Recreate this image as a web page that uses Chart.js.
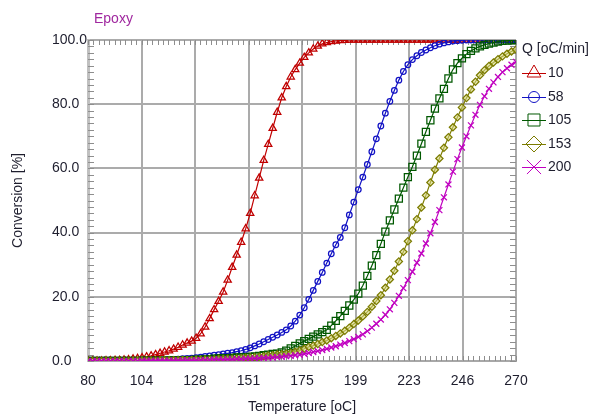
<!DOCTYPE html>
<html><head><meta charset="utf-8">
<script src="https://cdn.jsdelivr.net/npm/chart.js@4"></script>
<style>html,body{margin:0;padding:0;background:#fff;overflow:hidden}</style>
</head><body>
<canvas id="c" width="591" height="418"></canvas>
<script>
const temperature = [
 80,82,84,86,88,90,92,94,96,98,
 100,102,104,106,108,110,112,114,116,118,
 120,122,124,126,128,130,132,134,136,138,
 140,142,144,146,148,150,152,154,156,158,
 160,162,164,166,168,170,172,174,176,178,
 180,182,184,186,188,190,192,194,196,198,
 200,202,204,206,208,210,212,214,216,218,
 220,222,224,226,228,230,232,234,236,238,
 240,242,244,246,248,250,252,254,256,258,
 260,262,264,266,268,270];
const q10 = [
 0,0,0,0,0.1,0.1,0.2,0.2,0.3,0.4,
 0.6,0.8,1.0,1.3,1.6,2.0,2.4,2.8,3.2,3.7,
 4.3,5.0,5.6,6.2,7.1,8.5,10.6,13.2,16,18.6,
 21.5,25.2,29.2,33,37,41.2,46,51.5,57,62.5,
 67.5,72.5,77.5,82,85.5,88.5,90.8,92.8,94.6,96,
 97.2,98.1,98.8,99.2,99.5,99.7,99.8,99.9,100,100,
 100,100,100,100,100,100,100,100,100,100,
 100,100,100,100,100,100,100,100,100,100,
 100,100,100,100,100,100,100,100,100,100,
 100,100,100,100,100,100];
const q58 = [
 0,0,0,0,0,0,0.1,0.1,0.1,0.1,
 0.1,0.1,0.1,0.2,0.2,0.2,0.3,0.3,0.4,0.5,
 0.6,0.7,0.8,0.9,1.0,1.2,1.4,1.6,1.8,2.0,
 2.2,2.4,2.6,2.9,3.2,3.6,4.1,4.7,5.3,6.0,
 6.7,7.4,8.1,8.9,9.7,10.9,12.4,14.3,16.6,19.2,
 22,24.8,27.6,30.5,33.4,36.2,38.5,41.5,45.5,49.5,
 53.4,57.3,61.2,65.2,69.2,73.2,77.2,80.9,84.3,87.5,
 90.2,92.3,93.9,95.1,96.1,96.9,97.6,98.2,98.7,99.1,
 99.4,99.7,99.8,99.9,100,100,100,100,100,100,
 100,100,100,100,100,100];
const q105 = [
 0,0,0,0,0,0,0,0,0,0,
 0,0,0.1,0.1,0.1,0.1,0.1,0.1,0.2,0.2,
 0.2,0.2,0.3,0.3,0.4,0.4,0.5,0.6,0.7,0.8,
 0.9,0.9,1.0,1.1,1.1,1.2,1.3,1.4,1.6,1.8,
 2.0,2.2,2.3,2.7,3.2,3.9,4.7,5.5,6.2,6.9,
 7.6,8.3,9.0,9.7,11,12.5,14,15.6,17.3,19.1,
 21,23.5,26.5,29.7,33,36.5,40.3,43.8,47.2,50.6,
 54,57.3,60.5,64,67.7,71.4,75,78.6,81.8,84.8,
 88,90.8,92.8,94.3,95.6,96.6,97.4,98,98.5,98.9,
 99.2,99.5,99.7,99.8,99.9,100];
const q153 = [
 0,0,0,0,0,0,0,0,0,0,
 0.1,0.1,0.1,0.1,0.1,0.1,0.2,0.2,0.2,0.2,
 0.2,0.3,0.3,0.3,0.4,0.4,0.4,0.5,0.5,0.6,
 0.6,0.7,0.7,0.8,0.9,1.0,1.1,1.2,1.3,1.5,
 1.7,1.8,2.0,2.1,2.3,2.5,2.9,3.3,3.8,4.4,
 4.8,5.3,5.9,6.4,7.1,7.8,8.6,9.4,10.4,11.5,
 12.6,13.9,15.3,16.9,18.7,20.5,22.8,25.4,28.1,31,
 34,37.3,40.7,44.2,47.8,51.6,55.6,59.6,63.1,66.4,
 69.7,72.8,75.9,79,81.9,84.6,87,89,90.6,91.9,
 93,94,94.9,95.7,96.4,97];
const q200 = [
 0,0,0,0,0,0,0,0,0,0,
 0,0,0.1,0.1,0.1,0.1,0.1,0.1,0.1,0.1,
 0.2,0.2,0.2,0.2,0.2,0.3,0.3,0.3,0.4,0.4,
 0.4,0.5,0.5,0.6,0.6,0.7,0.7,0.8,0.9,1.0,
 1.0,1.1,1.2,1.3,1.5,1.6,1.8,1.9,2.2,2.5,
 2.8,3.1,3.4,3.8,4.2,4.6,5.1,5.6,6.2,6.8,
 7.5,8.3,9.3,10.4,11.6,12.9,14.4,16.1,18.1,20.3,
 22.7,25.2,27.8,30.6,33.5,36.6,39.8,43.3,47,51,
 55,59,62.9,66.5,70,73.4,76.7,79.8,82.5,84.8,
 86.8,88.5,90,91.2,92.3,93.2];

const seriesLabels = ['10','58','105','153','200'];
const seriesData = [q10, q58, q105, q153, q200];
const seriesColors = ['#c00000','#1212c4','#005800','#7c7c00','#c000c0'];
const seriesFills = ['rgba(0,0,0,0)','rgba(0,0,0,0)','rgba(0,0,0,0)','rgba(215,215,120,0.55)','rgba(0,0,0,0)'];
const seriesStyles = ['triangle','circle','rect','rectRot','crossRot'];
const plotRadius = [4.2, 2.8, 5, 3.6, 4.2];
const legendRadius = [8, 5.5, 8.5, 8, 10];

const xTickValues = [80,103.75,127.5,151.25,175,198.75,222.5,246.25,270];
const xTickLabels = ['80','104','128','151','175','199','223','246','270'];
const yTickValues = [0,20,40,60,80,100];
const yTickLabels = ['0.0','20.0','40.0','60.0','80.0','100.0'];

const chartTitle = 'Epoxy';
const xTitle = 'Temperature [oC]';
const yTitle = 'Conversion [%]';
const legendTitle = 'Q [oC/min]';

const FONT = '14px "Liberation Sans", Arial, sans-serif';
const TEXT = '#1e1e2e';

const datasets = seriesData.map((arr, i) => ({
  label: seriesLabels[i],
  data: temperature.map((t, k) => ({x: t, y: arr[k]})),
  borderColor: seriesColors[i],
  backgroundColor: seriesFills[i],
  pointBorderColor: seriesColors[i],
  pointBackgroundColor: seriesFills[i],
  pointStyle: seriesStyles[i],
  pointRadius: plotRadius[i],
  pointBorderWidth: 1.25,
  borderWidth: 1.2,
  showLine: true,
  order: 5 - i
}));

const minorTicks = {
  id: 'minorTicks',
  beforeDatasetsDraw(chart) {
    const {ctx, chartArea: a, scales: {x, y}} = chart;
    ctx.save();
    ctx.strokeStyle = '#8e8e8e';
    ctx.lineWidth = 1;
    ctx.beginPath();
    for (let i = 0; i <= 80; i++) {
      const v = 80 + i * 190 / 80;
      const px = Math.round(x.getPixelForValue(v)) + 0.5;
      ctx.moveTo(px, a.top); ctx.lineTo(px, a.top + 5);
      ctx.moveTo(px, a.bottom); ctx.lineTo(px, a.bottom - 5);
    }
    for (let i = 0; i <= 50; i++) {
      const py = Math.round(y.getPixelForValue(i * 2)) + 0.5;
      ctx.moveTo(a.left, py); ctx.lineTo(a.left + 6, py);
      ctx.moveTo(a.right, py); ctx.lineTo(a.right - 6, py);
    }
    ctx.stroke();
    ctx.restore();
  }
};

const texts = {
  id: 'texts',
  afterDraw(chart) {
    const {ctx, chartArea: a} = chart;
    ctx.save();
    ctx.font = FONT;
    ctx.textBaseline = 'middle';
    ctx.fillStyle = '#a0289f';
    ctx.textAlign = 'left';
    ctx.fillText(chartTitle, 94, 19);
    ctx.fillStyle = TEXT;
    ctx.textAlign = 'center';
    ctx.fillText(xTitle, (a.left + a.right) / 2, 407);
    ctx.save();
    ctx.translate(18, (a.top + a.bottom) / 2);
    ctx.rotate(-Math.PI / 2);
    ctx.fillText(yTitle, 0, 0);
    ctx.restore();
    ctx.textAlign = 'left';
    ctx.fillText(legendTitle, 522, 49);
    const ys = [73, 97, 120, 144, 167];
    seriesLabels.forEach((lab, i) => {
      const yy = ys[i];
      ctx.strokeStyle = seriesColors[i];
      ctx.lineWidth = 1;
      ctx.beginPath();
      ctx.moveTo(522, yy + 0.5); ctx.lineTo(546, yy + 0.5);
      ctx.stroke();
      ctx.fillStyle = 'rgba(0,0,0,0)';
      Chart.helpers.drawPoint(ctx, {pointStyle: seriesStyles[i], radius: legendRadius[i], rotation: 0, borderWidth: 1}, 534, yy);
      ctx.fillStyle = TEXT;
      ctx.fillText(lab, 548, yy);
    });
    ctx.restore();
  }
};

new Chart(document.getElementById('c'), {
  type: 'scatter',
  data: {datasets},
  plugins: [minorTicks, texts],
  options: {
    responsive: false,
    animation: false,
    devicePixelRatio: 1,
    layout: {padding: {left: 52, top: 40, right: 75, bottom: 0}},
    plugins: {legend: {display: false}, tooltip: {enabled: false}, title: {display: false}},
    scales: {
      x: {
        type: 'linear', min: 80, max: 270,
        afterBuildTicks: s => { s.ticks = xTickValues.map(v => ({value: v})); },
        afterFit: s => { s.height = 57; },
        ticks: {callback: (v, i) => xTickLabels[i], font: {family: '"Liberation Sans", Arial, sans-serif', size: 14}, color: TEXT, padding: 12, maxRotation: 0, autoSkip: false},
        grid: {color: '#ababab', lineWidth: 2, drawTicks: false},
        border: {display: true, color: '#a8a8a8', width: 2}
      },
      y: {
        type: 'linear', min: 0, max: 100,
        afterBuildTicks: s => { s.ticks = yTickValues.map(v => ({value: v})); },
        afterFit: s => { s.width = 36; },
        ticks: {callback: (v, i) => yTickLabels[i], crossAlign: 'far', font: {family: '"Liberation Sans", Arial, sans-serif', size: 14}, color: TEXT, padding: 2, autoSkip: false},
        grid: {color: '#ababab', lineWidth: 2, drawTicks: false},
        border: {display: true, color: '#c0c0c0', width: 3}
      }
    }
  }
});
</script>
</body></html>
